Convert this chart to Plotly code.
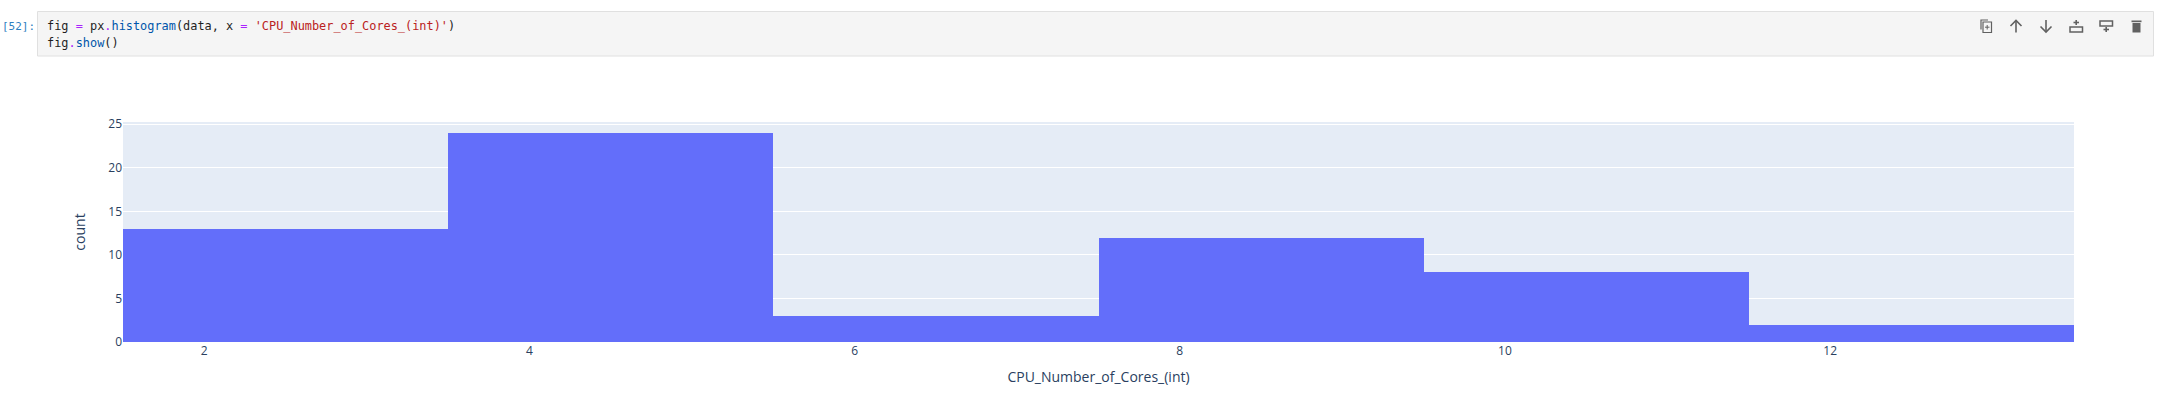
import plotly.graph_objects as go

W, H = 2168, 416
L, R, T, B = 123, 2074, 122, 342

bin_centers = [2.5, 4.5, 6.5, 8.5, 10.5, 12.5]
counts = [13, 24, 3, 12, 8, 2]
x_ticks = [2, 4, 6, 8, 10, 12]
y_ticks = [0, 5, 10, 15, 20, 25]
x_title = "CPU_Number_of_Cores_(int)"
y_title = "count"


def px_x(x):
    return (x - L) / (R - L)


def px_y(y):
    return (B - y) / (B - T)


def pth(points):
    out = []
    for p in points:
        c, x, y = p
        out.append(f"{c}{px_x(x):.5f},{px_y(y):.5f}")
    return " ".join(out)


def rect(x0, y0, x1, y1, fill=None, line=None, lw=1):
    return dict(type="rect", xref="paper", yref="paper", layer="above",
                x0=px_x(x0), x1=px_x(x1), y0=px_y(y0), y1=px_y(y1),
                fillcolor=fill or "rgba(0,0,0,0)",
                line=dict(color=line or "rgba(0,0,0,0)", width=lw if line else 0))


def poly(pts, color="#616161", width=1.6):
    d = pth([("M" if i == 0 else "L", x, y) for i, (x, y) in enumerate(pts)])
    return dict(type="path", xref="paper", yref="paper", layer="above", path=d,
                line=dict(color=color, width=width), fillcolor="rgba(0,0,0,0)")


fig = go.Figure(go.Bar(x=bin_centers, y=counts, width=2, marker=dict(color="#636efa", line=dict(width=0))))

shapes = [rect(37.5, 11.5, 2153.5, 56, fill="#f5f5f5", line="#e0e0e0", lw=1)]
c = "#616161"
# copy
shapes += [rect(1983, 22, 1991.5, 32.5, line=c, lw=1.2), poly([(1981, 29.5), (1981, 20), (1988, 20)], c, 1.2),
           poly([(1987.2, 25), (1987.2, 29.5)], c, 1), poly([(1985, 27.2), (1989.5, 27.2)], c, 1)]
# up
shapes += [poly([(2016, 32.5), (2016, 21)]), poly([(2010.5, 26), (2016, 20.5), (2021.5, 26)])]
# down
shapes += [poly([(2046, 20), (2046, 31.5)]), poly([(2040.5, 26.5), (2046, 32), (2051.5, 26.5)])]
# insert above
shapes += [rect(2070, 27, 2082.5, 32, line=c, lw=1.5), poly([(2076.2, 20), (2076.2, 25)]), poly([(2073.5, 22.5), (2079, 22.5)])]
# insert below
shapes += [rect(2100, 21, 2112.5, 26, line=c, lw=1.5), poly([(2106.2, 27), (2106.2, 32)]), poly([(2103.5, 29.5), (2109, 29.5)])]
# trash
shapes += [rect(2132.5, 23, 2140.5, 32.5, fill=c), rect(2131.5, 20.5, 2141.5, 22.2, fill=c)]

mono = "DejaVu Sans Mono, Liberation Mono, monospace"
code_font = dict(family=mono, size=11.9, color="#1f1f1f")


def span(t, col):
    return f'<span style="color:{col}">{t}</span>'


line1 = ("fig " + span("=", "#aa22ff") + " px" + span(".", "#aa22ff") + span("histogram", "#0055aa")
         + "(data, x " + span("=", "#aa22ff") + " " + span("'CPU_Number_of_Cores_(int)'", "#ba2121") + ")")
line2 = "fig" + span(".", "#aa22ff") + span("show", "#0055aa") + "()"


def note(text, x, y, font, anchor="left", **kw):
    return dict(text=text, xref="paper", yref="paper", x=px_x(x), y=px_y(y), showarrow=False,
                xanchor=anchor, yanchor="middle", font=font, borderpad=0, **kw)


annotations = [
    note(line1, 46, 26, code_font),
    note(line2, 46, 43, code_font),
    note("[52]:", 36, 26, dict(family=mono, size=11, color="#307fc1"), anchor="right"),
]

fig.update_layout(
    width=W, height=H, autosize=False,
    margin=dict(l=L, r=W - R, t=T, b=H - B),
    paper_bgcolor="white", plot_bgcolor="#e5ecf6",
    bargap=0, showlegend=False,
    font=dict(family="Open Sans, Verdana, Arial, sans-serif", size=12, color="#2a3f5f"),
    shapes=shapes, annotations=annotations,
    xaxis=dict(range=[1.5, 13.5], tickvals=x_ticks, showgrid=False, zeroline=False, ticks="",
               title=dict(text=x_title, standoff=14)),
    yaxis=dict(range=[0, 24 / 0.95], tickvals=y_ticks, gridcolor="white", gridwidth=1, zeroline=True,
               zerolinecolor="white", zerolinewidth=2, ticks="", title=dict(text=y_title, standoff=19)),
)
fig.write_html("out.html", config=dict(displayModeBar=False),
               post_script="document.body.style.margin='0';document.body.style.overflow='hidden';")
